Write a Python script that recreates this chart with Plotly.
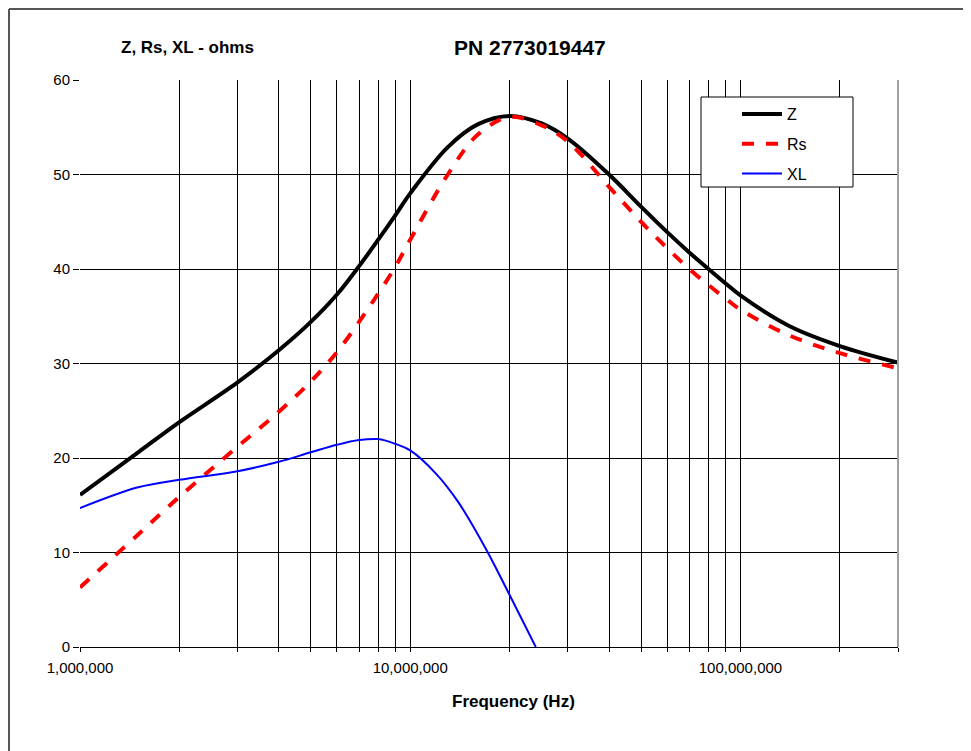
import plotly.graph_objects as go

# ---- data ----
freq_hz = [1e6, 1.5e6, 2e6, 3e6, 4e6, 5e6, 6e6, 7e6, 8e6, 9e6, 1e7, 1.3e7, 1.6e7,
           2e7, 2.5e7, 3e7, 4e7, 5e7, 6e7, 7e7, 8e7, 9e7, 1e8, 1.4e8, 2e8, 3e8]
z_ohms = [16.1, 20.6, 23.8, 28.0, 31.4, 34.4, 37.3, 40.3, 43.1, 45.65, 48.0, 52.9, 55.3,
          56.2, 55.4, 53.8, 50.0, 46.6, 43.9, 41.75, 40.0, 38.5, 37.2, 34.0, 31.85, 30.1]
rs_ohms = [6.3, 11.9, 15.9, 21.2, 24.9, 28.1, 31.2, 34.4, 37.4, 40.2, 43.1, 50.0, 54.2,
           56.1, 55.2, 53.5, 48.7, 45.0, 42.2, 40.0, 38.3, 36.9, 35.7, 33.0, 31.1, 29.5]
xl_freq_hz = [1e6, 1.5e6, 2e6, 3e6, 4e6, 5e6, 6e6, 7e6, 8e6, 9e6, 1e7, 1.2e7, 1.4e7,
              1.7e7, 2e7, 2.4e7]
xl_ohms = [14.7, 16.9, 17.7, 18.6, 19.6, 20.6, 21.4, 21.9, 22.0, 21.5, 20.8, 18.3, 15.3,
           10.3, 5.5, 0.0]

x_tickvals = [m * 10 ** e for e in (6, 7, 8) for m in range(1, 10)
              if m * 10 ** e <= 3e8]
x_ticktext = ["{:,}".format(int(v)) if str(int(v)).lstrip("1").strip("0") == "" else ""
              for v in x_tickvals]
y_tickvals = [0, 10, 20, 30, 40, 50, 60]

FONT = "Liberation Sans, Arial, sans-serif"

fig = go.Figure()
fig.add_trace(go.Scatter(x=freq_hz, y=z_ohms, name="Z", mode="lines",
                         line=dict(color="#000000", width=4, shape="spline"),
                         legendgroup="a"))
fig.add_trace(go.Scatter(x=freq_hz, y=rs_ohms, name="Rs", mode="lines",
                         line=dict(color="#FF0000", width=4, dash="dash", shape="spline"),
                         legendgroup="b"))
fig.add_trace(go.Scatter(x=xl_freq_hz, y=xl_ohms, name="XL", mode="lines",
                         line=dict(color="#0000FF", width=2, shape="spline"),
                         legendgroup="c"))

# page is rendered with an 8px body margin, so the figure is shifted by (8, 8)
OFF = 8
W, H = 971 - OFF, 751 - OFF
L, R, T, B = 80, 898, 80, 647   # plot area in page pixels


def px(xp):
    return (xp - L) / (R - L)


def py(yp):
    return (B - yp) / (B - T)


fig.update_layout(
    width=W, height=H,
    margin=dict(l=L - OFF, r=W - (R - OFF), t=T - OFF, b=H - (B - OFF), autoexpand=False),
    paper_bgcolor="white", plot_bgcolor="white",
    font=dict(family=FONT, size=15, color="#000000"),
    showlegend=True,
    legend=dict(x=px(737), y=py(97), xanchor="left", yanchor="top",
                borderwidth=0, bgcolor="rgba(0,0,0,0)",
                font=dict(size=16), tracegroupgap=6, traceorder="grouped",
                itemwidth=40),
    xaxis=dict(type="log", range=[6, 8.47712], tickvals=x_tickvals, ticktext=x_ticktext,
               showgrid=True, gridcolor="#000000", gridwidth=1,
               showline=True, linecolor="#000000", linewidth=1,
               ticks="outside", ticklen=4, tickcolor="#000000",
               ticklabelstandoff=3,
               tickfont=dict(size=15), zeroline=False),
    yaxis=dict(range=[0, 60], tickvals=y_tickvals,
               showgrid=True, gridcolor="#000000", gridwidth=1,
               showline=False, zeroline=False,
               ticks="outside", ticklen=6, tickcolor="#000000",
               tickfont=dict(size=15)),
    annotations=[
        dict(text="<b>PN 2773019447</b>", x=px(530), y=py(47), xref="paper", yref="paper",
             showarrow=False, font=dict(size=21), xanchor="center", yanchor="middle"),
        dict(text="<b>Z, Rs, XL - ohms</b>", x=px(187), y=py(47), xref="paper", yref="paper",
             showarrow=False, font=dict(size=17), xanchor="center", yanchor="middle"),
        dict(text="<b>Frequency (Hz)</b>", x=px(513), y=py(701), xref="paper", yref="paper",
             showarrow=False, font=dict(size=17), xanchor="center", yanchor="middle"),
    ],
    shapes=[
        dict(type="line", xref="paper", yref="paper", x0=1, x1=1, y0=0, y1=1,
             line=dict(color="#A0A0A0", width=2)),
        dict(type="rect", xref="paper", yref="paper", x0=px(701), x1=px(853),
             y0=py(187), y1=py(97), fillcolor="white",
             line=dict(color="#000000", width=1), layer="above"),
        dict(type="line", xref="paper", yref="paper", x0=px(9), x1=px(9), y0=py(9), y1=py(760),
             line=dict(color="#555555", width=2)),
        dict(type="line", xref="paper", yref="paper", x0=px(9), x1=px(980), y0=py(9), y1=py(9),
             line=dict(color="#555555", width=2)),
    ],
)

fig.write_html("out.html")
